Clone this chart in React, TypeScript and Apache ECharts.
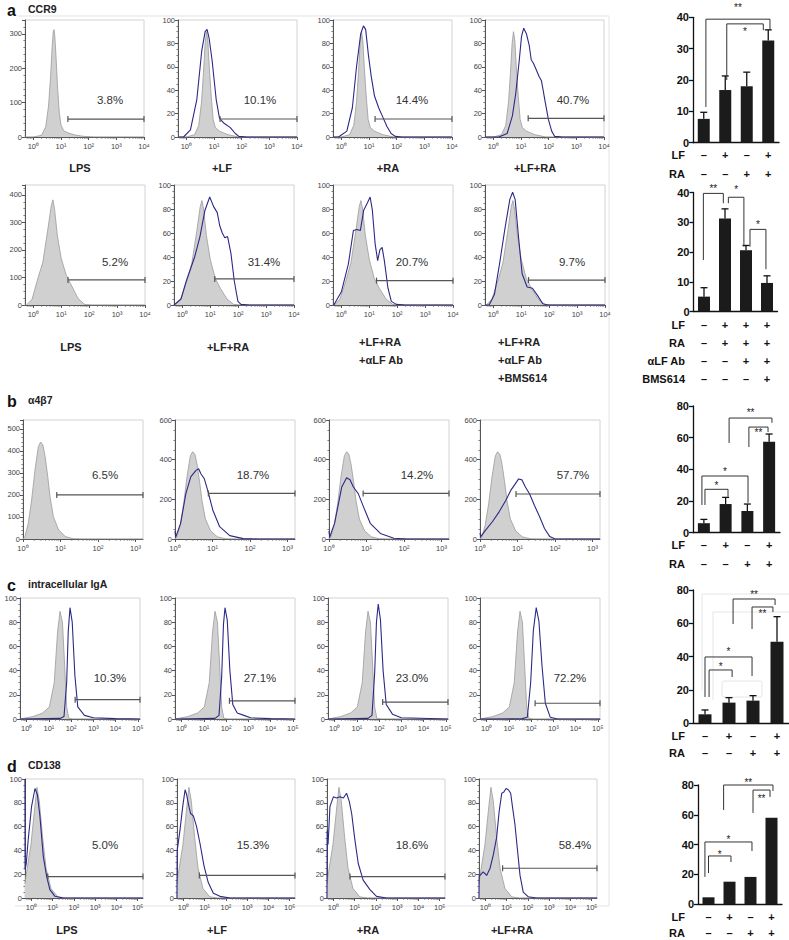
import React, { useEffect, useRef } from "react";
import * as echarts from "echarts";

const FONT = '"Liberation Sans", Arial, Helvetica, sans-serif';
const SUP = ["⁰", "¹", "²", "³", "⁴", "⁵"];

// ---------------- histogram data: [log10 fluorescence, events] ----------------
// a (top row) CCR9
const ccr9LpsIso = [[-0.3,0],[0.0,0],[0.3,5],[0.45,30],[0.55,90],[0.62,170],[0.68,260],[0.72,305],[0.75,312],[0.78,290],[0.83,220],[0.88,140],[0.94,70],[1.0,35],[1.1,18],[1.25,12],[1.5,6],[1.8,2],[2.2,0],[4,0]];
const ccr9Ctrl = [[-0.3,0],[0.0,0],[0.3,2],[0.45,10],[0.55,30],[0.62,55],[0.68,80],[0.73,90],[0.78,82],[0.83,60],[0.9,35],[0.97,15],[1.05,8],[1.2,5],[1.5,2],[1.9,0],[4,0]];
const ccr9LF = [[-0.3,0],[-0.1,0],[0.15,6],[0.38,32],[0.56,74],[0.68,90],[0.75,92],[0.82,85],[0.93,66],[1.08,32],[1.2,16],[1.35,12],[1.59,8],[1.77,3],[1.9,0.5],[2.2,0],[4,0]];
const ccr9RA = [[-0.3,0],[-0.1,0],[0.2,5],[0.4,25],[0.55,60],[0.7,88],[0.8,95],[0.88,92],[0.98,70],[1.08,52],[1.2,35],[1.35,25],[1.5,17],[1.65,9],[1.8,3],[1.95,0.5],[2.2,0],[4,0]];
const ccr9LFRA = [[-0.3,0],[0.2,0],[0.5,3],[0.69,18],[0.81,37],[0.94,66],[1.02,86],[1.1,93],[1.2,88],[1.3,78],[1.37,66],[1.45,63],[1.56,57],[1.65,52],[1.74,48],[1.8,40],[1.86,32],[1.99,15],[2.11,5],[2.22,0.5],[2.5,0],[4,0]];
// a (second row) CCR9 blocking
const ccr9bLpsIso = [[-0.3,0],[-0.25,0],[-0.05,20],[0.16,96],[0.34,156],[0.52,276],[0.64,360],[0.7,382],[0.76,348],[0.86,252],[1.0,168],[1.18,108],[1.36,72],[1.6,24],[1.84,2],[2.1,0],[4,0]];
const ccr9bCtrl = [[-0.3,0],[-0.25,0],[-0.05,5],[0.16,20],[0.34,35],[0.52,62],[0.64,82],[0.7,87],[0.76,80],[0.86,58],[1.0,38],[1.18,22],[1.36,14],[1.6,5],[1.84,0.5],[2.1,0],[4,0]];
const ccr9bLFRA = [[-0.3,0],[-0.05,5],[0.14,20],[0.44,40],[0.63,57],[0.81,79],[0.98,90],[1.12,82],[1.25,77],[1.34,66],[1.43,60],[1.52,56],[1.62,57],[1.74,43],[1.86,20],[1.99,3],[2.1,0.5],[2.4,0],[4,0]];
const ccr9bAb = [[-0.3,0],[-0.26,0.5],[0,11],[0.25,34],[0.43,62],[0.56,63],[0.68,62],[0.8,79],[0.93,85],[1.03,90],[1.11,79],[1.21,51],[1.3,37],[1.38,46],[1.46,48],[1.54,37],[1.67,14],[1.79,3],[1.97,0.5],[2.3,0],[4,0]];
const ccr9bBMS = [[-0.3,0],[-0.15,0],[0.04,9],[0.22,34],[0.41,63],[0.59,88],[0.69,94],[0.78,88],[0.9,57],[1.03,26],[1.21,15],[1.4,14],[1.58,8],[1.77,1],[1.96,0],[4,0]];
// b alpha4beta7
const a4b7Ctrl = [[0,0],[0.05,10],[0.14,71],[0.23,177],[0.32,314],[0.41,420],[0.47,440],[0.53,427],[0.59,374],[0.66,283],[0.72,192],[0.81,101],[0.95,41],[1.13,11],[1.35,1],[1.6,0],[3.2,0]];
const a4b7LF = [[0,40],[0.02,10],[0.15,79],[0.29,229],[0.42,313],[0.56,346],[0.63,354],[0.69,329],[0.78,304],[0.87,246],[1.01,145],[1.19,62],[1.46,17],[1.82,2],[2.2,0],[3.2,0]];
const a4b7RA = [[0,40],[0.02,10],[0.15,80],[0.34,262],[0.47,309],[0.56,299],[0.65,262],[0.78,229],[0.92,162],[1.1,79],[1.37,28],[1.73,4],[2.1,0],[3.2,0]];
const a4b7LFRA = [[0,30],[0.02,12],[0.15,45],[0.33,87],[0.51,137],[0.69,195],[0.82,245],[0.94,278],[1.03,303],[1.12,298],[1.21,262],[1.32,228],[1.45,170],[1.59,112],[1.72,53],[1.86,12],[1.99,1],[2.3,0],[3.2,0]];
// c intracellular IgA
const igaCtrl = [[-0.3,0],[0.28,2],[0.72,5],[1.02,10],[1.24,30],[1.39,72],[1.5,89],[1.61,80],[1.71,44],[1.8,10],[1.9,0.5],[2.1,0],[5.1,0]];
const igaLPS = [[-0.3,0],[1.5,0.5],[1.68,2],[1.8,30],[1.87,72],[1.95,92],[2.05,80],[2.17,36],[2.3,10],[2.6,3],[3.0,1],[4,0.3],[5.1,0]];
const igaLF = [[-0.3,0],[1.5,0.5],[1.68,3],[1.8,35],[1.88,78],[1.95,92],[2.05,82],[2.17,40],[2.3,12],[2.5,5],[2.8,3],[3.1,1],[4,0.3],[5.1,0]];
const igaRA = [[-0.3,0],[1.5,0.5],[1.68,3],[1.8,38],[1.88,80],[1.96,95],[2.06,82],[2.18,40],[2.32,12],[2.6,4],[3.0,1],[5.1,0]];
const igaLFRA = [[-0.3,0],[1.6,0.3],[1.83,1.5],[1.98,30],[2.1,73],[2.23,92],[2.35,81],[2.49,44],[2.64,13],[2.86,1.5],[3.2,0],[5.1,0]];
// d CD138
const cd138Ctrl = [[-0.3,12],[-0.25,19],[-0.02,45],[0.14,73],[0.26,93],[0.37,82],[0.53,51],[0.69,25],[0.92,8],[1.24,1],[1.6,0],[5.25,0]];
const cd138LPS = [[-0.3,100],[-0.295,24],[-0.24,29],[-0.15,49],[0.01,77],[0.17,92],[0.28,87],[0.4,69],[0.56,35],[0.72,18],[0.87,7],[1.11,1.4],[1.5,0],[5.25,0]];
const cd138LF = [[-0.3,0],[-0.29,40],[-0.16,57],[-0.03,77],[0.08,91],[0.15,87],[0.26,77],[0.34,71],[0.47,69],[0.62,60],[0.78,46],[0.97,27],[1.17,13],[1.41,4],[1.72,1.4],[2.2,0],[5.25,0]];
const cd138RA = [[-0.3,0],[-0.29,57],[-0.25,45],[-0.16,77],[0,85],[0.15,84],[0.31,85],[0.47,84],[0.62,88],[0.75,81],[0.86,71],[1.01,49],[1.17,29],[1.4,15],[1.72,7],[2.03,1.4],[2.5,0],[5.25,0]];
const cd138LFRA = [[-0.3,0],[-0.29,19],[-0.25,19],[-0.1,22],[0.06,19],[0.22,25],[0.37,36],[0.53,51],[0.65,73],[0.77,88],[0.87,89],[0.97,92],[1.08,91],[1.19,88],[1.28,76],[1.39,62],[1.5,42],[1.63,19],[1.78,5],[2.02,1],[2.4,0],[5.25,0]];

// gates: [start (log10), height]
const ccr9Gates = [[1.25,52],[1.22,15.4],[1.22,15.4],[1.26,16]];
const ccr9bGates = [[1.24,91],[1.16,21.7],[1.26,20.3],[1.26,20.8]];
const a4b7Gates = [[0.9,200],[0.89,230],[0.91,230],[0.96,227]];
const igaGates = [[2.18,16],[2.15,15],[2.16,14],[2.18,13]];
const cd138Gates = [[0.77,18],[0.75,19],[0.78,18],[0.81,25]];

const ccr9Pct = ["3.8%", "10.1%", "14.4%", "40.7%"];
const ccr9bPct = ["5.2%", "31.4%", "20.7%", "9.7%"];
const a4b7Pct = ["6.5%", "18.7%", "14.2%", "57.7%"];
const igaPct = ["10.3%", "27.1%", "23.0%", "72.2%"];
const cd138Pct = ["5.0%", "15.3%", "18.6%", "58.4%"];

// ---------------- bar data ----------------
const ccr9Means = [7.6, 16.8, 18, 32.6];
const ccr9Err = [9.7, 21.3, 22.5, 36];
const ccr9bMeans = [5, 31.3, 20.6, 9.6];
const ccr9bErr = [8, 34.5, 22.2, 12];
const a4b7Means = [6, 18.1, 13.7, 57.5];
const a4b7Err = [8.4, 22.3, 18.1, 62.3];
const igaMeans = [5.4, 12.4, 13.6, 49];
const igaErr = [8, 15.4, 16.6, 64];
const cd138Means = [4.5, 15, 18.2, 58];

const lfSigns = ["–", "+", "–", "+"];
const raSigns = ["–", "–", "+", "+"];
const lfSigns2 = ["–", "+", "+", "+"];
const raSigns2 = ["–", "+", "+", "+"];
const abSigns2 = ["–", "–", "+", "+"];
const bmsSigns2 = ["–", "–", "–", "+"];

// brackets: [left x, right x, top, left leg end, right leg end, star level]
const ccr9Brackets = [[0.1,3.08,39.4,11.4,35.9,43.9],[1.07,2.77,37.9,20,35.9,36.3]];
const ccr9Stars = ["**", "*"];
const ccr9bBrackets = [[-0.03,0.92,39.7,17.3,36.4,42.2],[1.16,1.9,38.4,36.4,21.8,41.7],[2.19,2.95,27.6,21.8,14.2,30.2]];
const ccr9bStars = ["**", "*", "*"];
const a4b7Brackets = [[0.05,1.11,27.4,17.5,22.7,31.4],[-0.09,2.03,35.8,17.5,18.9,40.2],[1.16,3.13,72.4,56.6,69.4,77.5],[2.07,2.95,66.7,54.1,63.6,65]];
const a4b7Stars = ["*", "*", "**", "**"];
const igaBrackets = [[0.17,1.13,32,15.8,27.8,35.6],[0,1.96,39.8,15.8,28.4,44.6],[1.17,2.92,74.6,59.6,71,78.8],[1.96,2.83,69.8,56.6,66.8,67.5]];
const igaStars = ["*", "*", "**", "**"];
const cd138Brackets = [[0,1.07,32.3,20.8,28.2,35],[-0.17,2.07,41.7,18.2,35.6,45],[0.72,3.07,80,63.2,76,83.4],[2.12,2.93,76.6,61.2,72,72.6]];
const cd138Stars = ["*", "*", "**", "**"];

// ---------------- layout ----------------
const histRows = [
  { top: 20, bottom: 137, lefts: [25, 178, 333, 485], width: 119, xMin: -0.3, xMax: 4,
    yMax: [340, 100, 100, 100], yStep: [100, 20, 20, 20], yMinor: [20, 5, 5, 5],
    grey: [ccr9LpsIso, ccr9Ctrl, ccr9Ctrl, ccr9Ctrl], blue: [null, ccr9LF, ccr9RA, ccr9LFRA],
    gates: ccr9Gates, pct: ccr9Pct, pctXY: [[110, 100], [260, 100], [412, 100], [573, 100]] },
  { top: 185, bottom: 305, lefts: [25, 174, 333, 485], width: 120, xMin: -0.3, xMax: 4,
    yMax: [436, 100, 100, 100], yStep: [100, 20, 20, 20], yMinor: [25, 5, 5, 5],
    grey: [ccr9bLpsIso, ccr9bCtrl, ccr9bCtrl, ccr9bCtrl], blue: [null, ccr9bLFRA, ccr9bAb, ccr9bBMS],
    gates: ccr9bGates, pct: ccr9bPct, pctXY: [[115, 262], [264, 262], [412, 262], [572, 262]] },
  { top: 420, bottom: 539, lefts: [23, 175, 329, 480], width: 120, xMin: 0, xMax: 3.2,
    yMax: [540, 600, 600, 600], yStep: [100, 200, 200, 200], yMinor: [20, 50, 50, 50],
    grey: [a4b7Ctrl, a4b7Ctrl, a4b7Ctrl, a4b7Ctrl], blue: [null, a4b7LF, a4b7RA, a4b7LFRA],
    gates: a4b7Gates, pct: a4b7Pct, pctXY: [[105, 475], [253, 475], [417, 475], [573, 475]] },
  { top: 598, bottom: 719, lefts: [20, 175, 328, 480], width: 120, xMin: -0.3, xMax: 5.1,
    yMax: [100, 100, 100, 100], yStep: [20, 20, 20, 20], yMinor: [5, 5, 5, 5],
    grey: [igaCtrl, igaCtrl, igaCtrl, igaCtrl], blue: [igaLPS, igaLF, igaRA, igaLFRA],
    gates: igaGates, pct: igaPct, pctXY: [[110, 678], [260, 678], [412, 678], [570, 678]] },
  { top: 779, bottom: 898, lefts: [25, 177, 327, 479], width: 118, xMin: -0.3, xMax: 5.25,
    yMax: [100, 100, 100, 100], yStep: [20, 20, 20, 20], yMinor: [5, 5, 5, 5],
    grey: [cd138Ctrl, cd138Ctrl, cd138Ctrl, cd138Ctrl], blue: [cd138LPS, cd138LF, cd138RA, cd138LFRA],
    gates: cd138Gates, pct: cd138Pct, pctXY: [[105, 845], [253, 845], [412, 845], [575, 845]] },
];

const barCharts = [
  { left: 693, top: 17.3, width: 86, height: 125.4, max: 40, step: 10, barWidth: 12,
    means: ccr9Means, err: ccr9Err, rows: [lfSigns, raSigns], names: ["LF", "RA"],
    firstRowY: 155, lineHeight: 19, brackets: ccr9Brackets, stars: ccr9Stars },
  { left: 693.5, top: 192.5, width: 84, height: 119, max: 40, step: 10, barWidth: 12,
    means: ccr9bMeans, err: ccr9bErr, rows: [lfSigns2, raSigns2, abSigns2, bmsSigns2],
    names: ["LF", "RA", "αLF Ab", "BMS614"],
    firstRowY: 325, lineHeight: 18, brackets: ccr9bBrackets, stars: ccr9bStars },
  { left: 693, top: 406, width: 87, height: 126.7, max: 80, step: 20, barWidth: 12,
    means: a4b7Means, err: a4b7Err, rows: [lfSigns, raSigns], names: ["LF", "RA"],
    firstRowY: 545, lineHeight: 19, brackets: a4b7Brackets, stars: a4b7Stars },
  { left: 693, top: 590, width: 96, height: 133.3, max: 80, step: 20, barWidth: 13,
    means: igaMeans, err: igaErr, rows: [lfSigns, raSigns], names: ["LF", "RA"],
    firstRowY: 736, lineHeight: 17, brackets: igaBrackets, stars: igaStars },
  { left: 698, top: 785, width: 84, height: 119, max: 80, step: 20, barWidth: 12,
    means: cd138Means, err: null, rows: [lfSigns, raSigns], names: ["LF", "RA"],
    firstRowY: 917, lineHeight: 16, brackets: cd138Brackets, stars: cd138Stars },
];

const conditionLabels = [
  { t: "LPS", x: 80, y: 168, a: "center" }, { t: "+LF", x: 222, y: 168, a: "center" },
  { t: "+RA", x: 388, y: 168, a: "center" }, { t: "+LF+RA", x: 535, y: 168, a: "center" },
  { t: "LPS", x: 71, y: 347, a: "center" }, { t: "+LF+RA", x: 228, y: 347, a: "center" },
  { t: "+LF+RA", x: 359, y: 342, a: "left" }, { t: "+αLF Ab", x: 359, y: 360, a: "left" },
  { t: "+LF+RA", x: 498, y: 342, a: "left" }, { t: "+αLF Ab", x: 498, y: 360, a: "left" },
  { t: "+BMS614", x: 498, y: 378, a: "left" },
  { t: "LPS", x: 67, y: 930, a: "center" }, { t: "+LF", x: 217, y: 930, a: "center" },
  { t: "+RA", x: 368, y: 930, a: "center" }, { t: "+LF+RA", x: 512, y: 930, a: "center" },
];

const panelHeads = [
  { letter: "a", title: "CCR9", y: 10 },
  { letter: "b", title: "α4β7", y: 401 },
  { letter: "c", title: "intracellular IgA", y: 585 },
  { letter: "d", title: "CD138", y: 766 },
];

function txt(text, x, y, o: any = {}) {
  return {
    type: "text", x, y, z: 10,
    style: {
      text, fill: o.fill || "#222", fontSize: o.size || 11, fontWeight: o.weight || "normal",
      fontFamily: FONT, align: o.align || "center", verticalAlign: "middle",
    },
  };
}

function buildOption() {
  const grid: any[] = [], xAxis: any[] = [], yAxis: any[] = [], series: any[] = [], graphic: any[] = [];

  const gateRender = (params, api) => {
    const a = api.coord([api.value(0), api.value(1)]);
    const b = api.coord([api.value(2), api.value(1)]);
    const st = { stroke: "#555", lineWidth: 1.2 };
    return {
      type: "group",
      children: [
        { type: "line", shape: { x1: a[0], y1: a[1], x2: b[0], y2: b[1] }, style: st },
        { type: "line", shape: { x1: a[0], y1: a[1] - 3, x2: a[0], y2: a[1] + 3 }, style: st },
        { type: "line", shape: { x1: b[0], y1: b[1] - 3, x2: b[0], y2: b[1] + 3 }, style: st },
      ],
    };
  };
  // minor tick marks on the x axis (log decades), drawn through the axis scale
  const minorTickRender = (params, api) => {
    const p = api.coord([api.value(0), 0]);
    return { type: "line", shape: { x1: p[0], y1: p[1], x2: p[0], y2: p[1] + 1.8 }, style: { stroke: "#666", lineWidth: 0.8 } };
  };

  histRows.forEach((row) => {
    // the x axis runs in "decades above the left edge" so that its zero sits on the left edge
    const off = -row.xMin;
    const span = row.xMax + off;
    const shift = (arr) => arr.map((p) => [p[0] + off, p[1]]);
    row.lefts.forEach((left, i) => {
      const gi = grid.length;
      grid.push({ left, top: row.top, width: row.width, height: row.bottom - row.top, show: true,
        borderColor: "#d2d2d2", borderWidth: 1, backgroundColor: "rgba(0,0,0,0)", containLabel: false, outerBoundsMode: "none" });
      const majorsX: number[] = [];
      for (let d = Math.ceil(row.xMin); d <= Math.floor(row.xMax + 1e-9); d++) majorsX.push(d + off);
      const minorsX: number[][] = [];
      for (let d = Math.floor(row.xMin); d < Math.ceil(row.xMax); d++)
        for (let k = 2; k <= 9; k++) { const v = d + Math.log10(k); if (v > row.xMin && v < row.xMax) minorsX.push([v + off]); }
      const ymax = row.yMax[i], step = row.yStep[i];

      const xi = xAxis.length;
      xAxis.push({ type: "value", gridIndex: gi, min: 0, max: span, position: "bottom",
        axisLine: { show: true, onZero: false, lineStyle: { color: "#555", width: 1 } },
        axisTick: { show: true, customValues: majorsX, length: 3, lineStyle: { color: "#555", width: 1 } },
        axisLabel: { show: true, customValues: majorsX, formatter: (v) => "10" + SUP[Math.round(v - off)],
          fontSize: 7.5, color: "#444", margin: 5, fontFamily: FONT },
        splitLine: { show: false }, minorTick: { show: false } });
      const yi = yAxis.length;
      yAxis.push({ type: "value", gridIndex: gi, min: 0, max: ymax, interval: step, position: "left",
        axisLine: { show: true, onZero: false, lineStyle: { color: "#555", width: 1 } },
        axisTick: { show: true, length: 3, lineStyle: { color: "#555", width: 1 } },
        minorTick: { show: true, splitNumber: Math.round(step / row.yMinor[i]), length: 1.6, lineStyle: { color: "#666", width: 0.8 } },
        axisLabel: { show: true, showMaxLabel: ymax % step === 0, fontSize: 7.5, color: "#444", margin: 3, fontFamily: FONT },
        splitLine: { show: false }, minorSplitLine: { show: false } });

      series.push({ type: "line", xAxisIndex: xi, yAxisIndex: yi, data: shift(row.grey[i]), symbol: "none",
        silent: true, lineStyle: { color: "#9a9a9a", width: 0.8 }, areaStyle: { color: "#d0d0d0", opacity: 1 }, z: 2 });
      if (row.blue[i]) {
        series.push({ type: "line", xAxisIndex: xi, yAxisIndex: yi, data: shift(row.blue[i]), symbol: "none",
          silent: true, lineStyle: { color: "#2c2987", width: 1.1 }, z: 3 });
      }
      const g = row.gates[i];
      series.push({ type: "custom", xAxisIndex: xi, yAxisIndex: yi, data: [[g[0] + off, g[1], span]],
        renderItem: gateRender, silent: true, clip: false, z: 4 });
      series.push({ type: "custom", xAxisIndex: xi, yAxisIndex: yi, data: minorsX,
        renderItem: minorTickRender, silent: true, clip: false, z: 5 });
      graphic.push(txt(row.pct[i], row.pctXY[i][0], row.pctXY[i][1], { size: 11.5, fill: "#333" }));
    });
  });

  barCharts.forEach((bc) => {
    const gi = grid.length;
    grid.push({ left: bc.left, top: bc.top, width: bc.width, height: bc.height, show: false, containLabel: false, outerBoundsMode: "none" });
    const xi = xAxis.length;
    xAxis.push({ type: "value", gridIndex: gi, min: -0.5, max: 3.5, position: "bottom",
      axisLine: { show: true, onZero: false, lineStyle: { color: "#111", width: 1.3 } },
      axisTick: { show: false }, splitLine: { show: false },
      axisLabel: { show: true, customValues: [0, 1, 2, 3],
        formatter: (v) => bc.rows.map((r) => r[Math.round(v)]).join("\n"),
        fontSize: 11, fontWeight: "bold", color: "#111", lineHeight: bc.lineHeight,
        margin: bc.firstRowY - (bc.top + bc.height) - bc.lineHeight / 2, fontFamily: FONT } });
    const yi = yAxis.length;
    yAxis.push({ type: "value", gridIndex: gi, min: 0, max: bc.max, interval: bc.step, position: "left",
      axisLine: { show: true, onZero: false, lineStyle: { color: "#111", width: 1.3 } },
      axisTick: { show: true, length: 4, lineStyle: { color: "#111", width: 1.3 } },
      axisLabel: { fontSize: 11, fontWeight: "bold", color: "#111", margin: 4, fontFamily: FONT },
      splitLine: { show: false } });
    series.push({ type: "bar", xAxisIndex: xi, yAxisIndex: yi, data: bc.means.map((m, i) => [i, m]),
      barWidth: bc.barWidth, itemStyle: { color: "#1b1b1b" }, silent: true, z: 2 });
    if (bc.err) {
      series.push({ type: "custom", xAxisIndex: xi, yAxisIndex: yi, silent: true, clip: false, z: 3,
        data: bc.means.map((m, i) => [i, m, bc.err[i]]),
        renderItem: (params, api) => {
          const a = api.coord([api.value(0), api.value(1)]);
          const e = api.coord([api.value(0), api.value(2)]);
          const st = { stroke: "#111", lineWidth: 1.3 };
          return { type: "group", children: [
            { type: "line", shape: { x1: a[0], y1: a[1], x2: e[0], y2: e[1] }, style: st },
            { type: "line", shape: { x1: e[0] - 3.5, y1: e[1], x2: e[0] + 3.5, y2: e[1] }, style: st },
          ] };
        } });
    }
    const stars = bc.stars;
    series.push({ type: "custom", xAxisIndex: xi, yAxisIndex: yi, silent: true, clip: false, z: 4,
      data: bc.brackets,
      renderItem: (params, api) => {
        const xl = api.value(0), xr = api.value(1), yt = api.value(2), yl = api.value(3), yr = api.value(4), ys = api.value(5);
        const pl = api.coord([xl, yt]), pr = api.coord([xr, yt]);
        const plb = api.coord([xl, yl]), prb = api.coord([xr, yr]);
        const ps = api.coord([(xl + xr) / 2, ys]);
        return { type: "group", children: [
          { type: "polyline", shape: { points: [plb, pl, pr, prb] }, style: { stroke: "#333", lineWidth: 1, fill: "none" } },
          { type: "text", x: ps[0], y: ps[1] + 2.5, style: { text: stars[params.dataIndex], fill: "#222", fontSize: 10,
            fontFamily: FONT, align: "center", verticalAlign: "middle" } },
        ] };
      } });
    bc.names.forEach((n, k) => {
      graphic.push(txt(n, 685, bc.firstRowY + k * bc.lineHeight, { weight: "bold", align: "right", fill: "#111" }));
    });
  });

  conditionLabels.forEach((c) => graphic.push(txt(c.t, c.x, c.y, { weight: "bold", align: c.a, fill: "#222" })));
  panelHeads.forEach((h) => {
    graphic.push(txt(h.letter, 7, h.y, { weight: "bold", size: 16, align: "left", fill: "#111" }));
    graphic.push(txt(h.title, 28, h.y - 1, { weight: "bold", size: 10.5, align: "left", fill: "#222" }));
  });

  // faint frame around the histogram block and faint artefacts in panel c
  graphic.push({ type: "polyline", z: 0, shape: { points: [[18, 16], [609, 16], [609, 906], [15, 906]] },
    style: { stroke: "#e3e3e3", fill: "none", lineWidth: 1 } });
  graphic.push({ type: "polyline", z: 0, shape: { points: [[702, 690], [702, 594], [789, 594]] },
    style: { stroke: "#e6e6e6", fill: "none", lineWidth: 1 } });
  graphic.push({ type: "polyline", z: 0, shape: { points: [[713, 700], [713, 612], [789, 612]] },
    style: { stroke: "#e6e6e6", fill: "none", lineWidth: 1 } });
  graphic.push({ type: "rect", z: 0, shape: { x: 722, y: 681, width: 40, height: 16, r: 2 },
    style: { stroke: "#e6e6e6", fill: "none", lineWidth: 1 } });

  return { animation: false, backgroundColor: "#ffffff", grid, xAxis, yAxis, series, graphic };
}

export default function App() {
  const ref = useRef<HTMLDivElement>(null);
  useEffect(() => {
    document.body.style.margin = "0";
    const chart = echarts.init(ref.current, null, { renderer: "svg" });
    chart.setOption(buildOption());
    return () => chart.dispose();
  }, []);
  return <div ref={ref} style={{ width: 789, height: 940, background: "#fff" }} />;
}
